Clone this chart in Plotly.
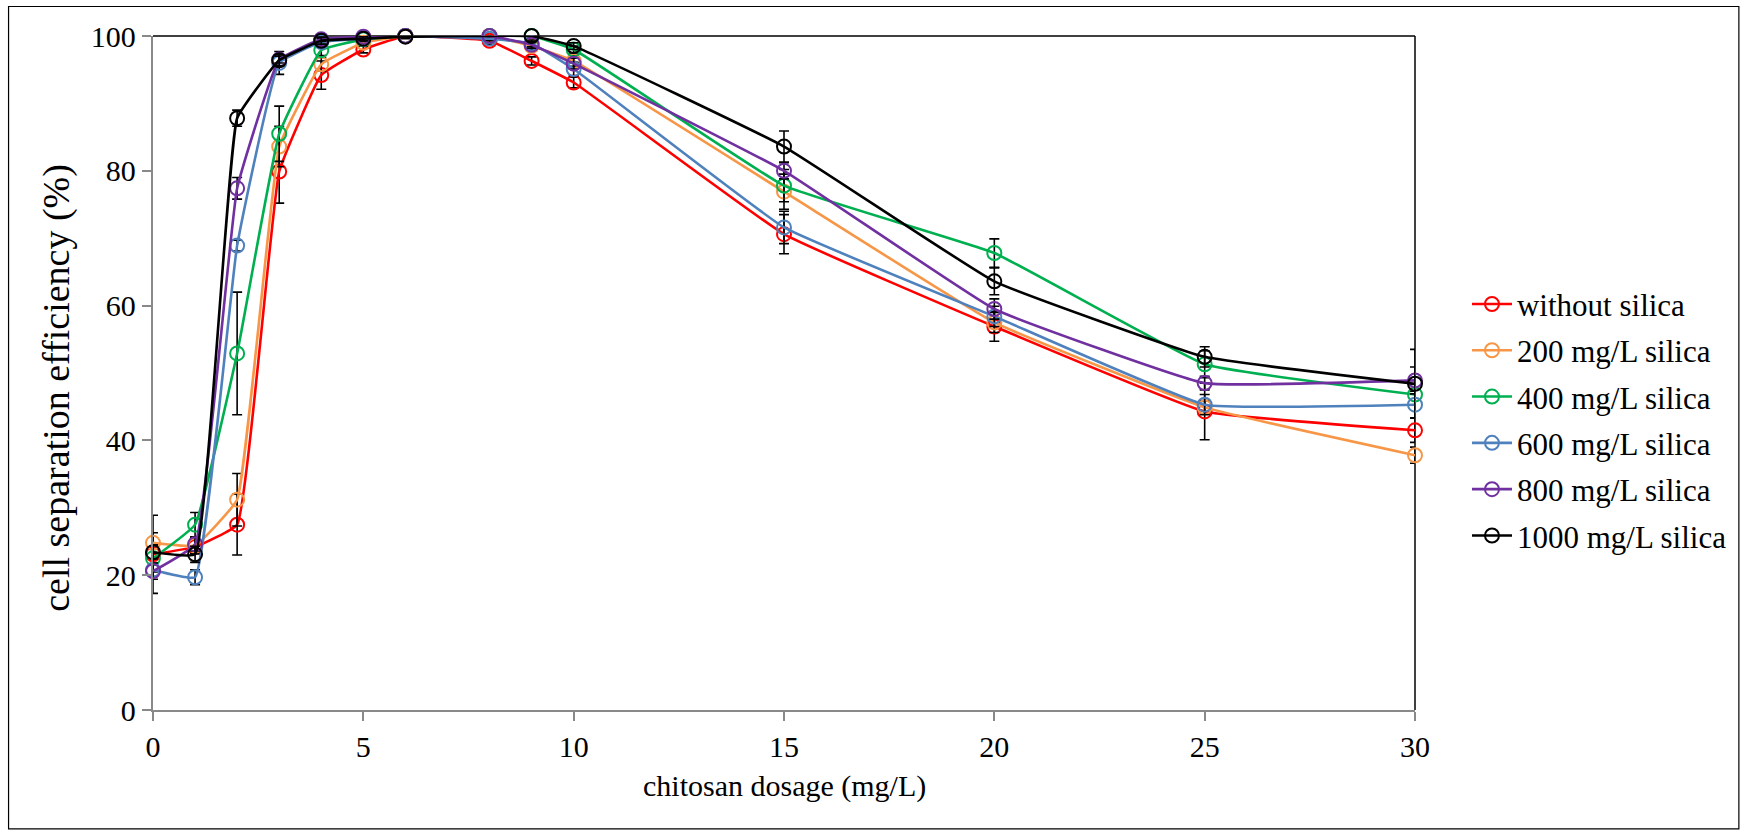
import plotly.graph_objects as go

# ---------------- data ----------------
dosage = [0, 1, 2, 3, 4, 5, 6, 8, 9, 10, 15, 20, 25, 30]
dosage_1000 = [0, 1, 2, 3, 4, 5, 6, 9, 10, 15, 20, 25, 30]

names = ["without silica", "200 mg/L silica", "400 mg/L silica",
         "600 mg/L silica", "800 mg/L silica", "1000 mg/L silica"]

without_silica = [23.1, 24.2, 27.5, 79.9, 94.2, 98.0, 100, 99.3, 96.3, 93.1, 70.6, 56.9, 44.3, 41.5]
without_silica_err = [5.8, 1.0, 4.5, 4.7, 2.1, 0.5, 0, 0.5, 0.6, 0.8, 2.9, 2.2, 4.2, 1.8]

silica_200 = [24.8, 24.4, 31.2, 83.6, 95.8, 99.0, 100, 100, 98.5, 96.3, 76.9, 57.5, 44.9, 37.8]
silica_200_err = [1.5, 1.2, 3.9, 3.0, 1.0, 0.5, 0, 0, 0.5, 0.8, 2.6, 1.5, 1.0, 1.2]

silica_400 = [22.5, 27.5, 52.9, 85.5, 97.9, 99.5, 100, 100, 100, 98.0, 77.8, 67.8, 51.3, 46.8]
silica_400_err = [2.0, 1.8, 9.1, 4.1, 0.8, 0.3, 0, 0, 0, 0.5, 2.4, 2.1, 2.0, 1.5]

silica_600 = [20.8, 19.7, 68.9, 96.0, 99.1, 99.6, 100, 99.6, 98.9, 95.1, 71.6, 58.4, 45.3, 45.3]
silica_600_err = [1.0, 1.1, 0.8, 1.7, 0.5, 0.3, 0, 0.3, 0.5, 1.0, 2.4, 1.5, 1.5, 2.0]

silica_800 = [20.6, 24.6, 77.4, 96.5, 99.5, 99.9, 100, 100, 98.7, 95.9, 80.0, 59.5, 48.5, 48.9]
silica_800_err = [1.2, 1.0, 1.6, 0.5, 0.3, 0.2, 0, 0, 0.5, 0.8, 1.2, 1.5, 1.0, 2.0]

silica_1000 = [23.4, 23.1, 87.8, 96.4, 99.3, 99.6, 99.9, 100, 98.5, 83.6, 63.6, 52.4, 48.4]
silica_1000_err = [1.0, 1.2, 1.2, 0.8, 0.5, 0.3, 0.3, 0, 0.5, 2.3, 2.0, 1.5, 5.1]

x_ticks = [0, 5, 10, 15, 20, 25, 30]
y_ticks = [0, 20, 40, 60, 80, 100]

# ---------------- style ----------------
colors = ["#FF0000", "#F79646", "#00B050", "#4F81BD", "#7030A0", "#000000"]
series = [
    (dosage, without_silica, without_silica_err),
    (dosage, silica_200, silica_200_err),
    (dosage, silica_400, silica_400_err),
    (dosage, silica_600, silica_600_err),
    (dosage, silica_800, silica_800_err),
    (dosage_1000, silica_1000, silica_1000_err),
]

FONT = "Liberation Serif, Times New Roman, serif"
W, H = 1747, 833
L, R, T, B = 152.5, 1415.0, 35.5, 710.0

fig = go.Figure()
for name, col, (xs, ys, es) in zip(names, colors, series):
    fig.add_trace(go.Scatter(
        x=xs, y=ys, name=name, mode="lines+markers",
        line=dict(color=col, width=2.6, shape="spline", smoothing=0.3),
        marker=dict(symbol="circle-open", size=14, color=col, line=dict(width=2, color=col)),
        error_y=dict(type="data", array=es, visible=True, color="black", thickness=1.6, width=5),
        cliponaxis=False, legendgroup=name,
    ))

def px_x(p):
    return (p - L) / (R - L)

def px_y(p):
    return (B - p) / (B - T)

shapes = [
    dict(type="line", xref="paper", yref="paper", x0=0, x1=1, y0=1, y1=1,
         line=dict(color="black", width=1.5), layer="below"),
    dict(type="line", xref="paper", yref="paper", x0=1, x1=1, y0=0, y1=1,
         line=dict(color="black", width=1.5), layer="below"),
    dict(type="rect", xref="paper", yref="paper",
         x0=px_x(8), x1=px_x(1739), y0=px_y(829), y1=px_y(6),
         line=dict(color="black", width=1.2), layer="below"),
]

fig.update_layout(
    width=W, height=H,
    margin=dict(l=L, r=W - R, t=T, b=H - B, pad=0),
    paper_bgcolor="white", plot_bgcolor="white",
    font=dict(family=FONT, size=29, color="black"),
    showlegend=True,
    legend=dict(x=px_x(1467), xanchor="left", y=px_y(277), yanchor="top",
                font=dict(family=FONT, size=31), bgcolor="rgba(0,0,0,0)",
                tracegroupgap=3, itemwidth=40),
    shapes=shapes,
    annotations=[
        dict(text="cell separation efficiency (%)", xref="paper", yref="paper",
             x=px_x(56), y=px_y(388), textangle=-90, showarrow=False,
             font=dict(family=FONT, size=38), xanchor="center", yanchor="middle"),
        dict(text="chitosan dosage (mg/L)", xref="paper", yref="paper",
             x=0.5, y=px_y(786), showarrow=False,
             font=dict(family=FONT, size=30), xanchor="center", yanchor="middle"),
    ],
)

fig.update_xaxes(range=[0, 30], tickvals=x_ticks, ticktext=[str(v) for v in x_ticks],
                 showgrid=False, zeroline=False, showline=True, linecolor="#898989",
                 linewidth=2.3, ticks="outside", ticklen=9, tickcolor="#898989", tickwidth=2,
                 tickfont=dict(family=FONT, size=30))
fig.update_yaxes(range=[0, 100], tickvals=y_ticks, ticktext=[str(v) for v in y_ticks],
                 showgrid=False, zeroline=False, showline=True, linecolor="#898989",
                 linewidth=2.3, ticks="outside", ticklen=9, tickcolor="#898989", tickwidth=2,
                 tickfont=dict(family=FONT, size=30))

fig.write_html("out.html")
